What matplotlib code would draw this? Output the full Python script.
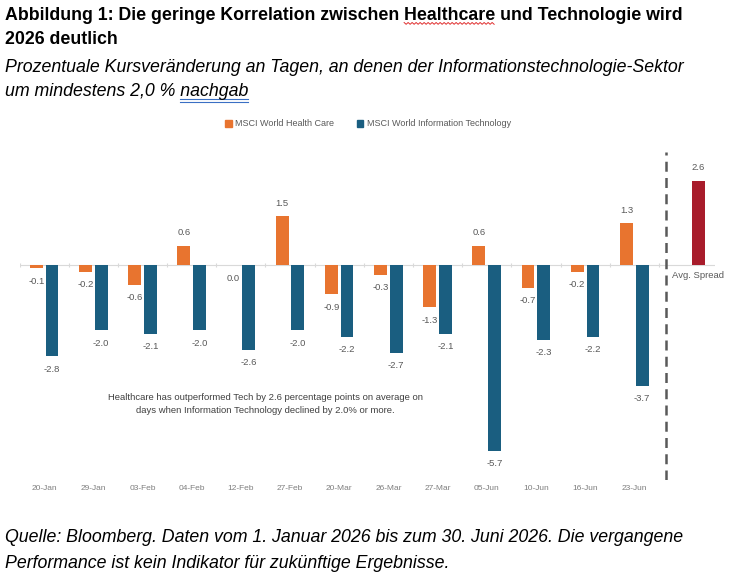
import matplotlib.pyplot as plt
import numpy as np
from matplotlib.patches import Patch
from matplotlib.lines import Line2D

dates = ["20-Jan", "29-Jan", "03-Feb", "04-Feb", "12-Feb", "27-Feb", "20-Mar",
         "26-Mar", "27-Mar", "05-Jun", "10-Jun", "16-Jun", "23-Jun"]
health = [-0.1, -0.2, -0.6, 0.6, 0.0, 1.5, -0.9, -0.3, -1.3, 0.6, -0.7, -0.2, 1.3]
tech = [-2.8, -2.0, -2.1, -2.0, -2.6, -2.0, -2.2, -2.7, -2.1, -5.7, -2.3, -2.2, -3.7]
avg_spread = 2.6

orange = "#E8742F"
blue = "#1A5E80"
red = "#A81C2B"
grey = "#595959"

plt.rcParams['font.family'] = ['Liberation Sans', 'DejaVu Sans']

W, H = 738, 586
fig = plt.figure(figsize=(7.38, 5.86), dpi=100)
ax = fig.add_axes([0.0271, 0.181, 0.9417, 0.563])

x = np.arange(len(dates))
off = 0.16
w = 0.26
ax.bar(x - off, health, w, color=orange)
ax.bar(x + off, tech, w, color=blue)
xa = 13.3
ax.bar([xa], [avg_spread], w, color=red)

def lab(xp, v):
    if v > 0:
        ax.annotate(f"{v:.1f}", (xp, v), xytext=(0, 6), textcoords="offset points",
                    ha="center", va="bottom", fontsize=6.8, color=grey)
    else:
        ax.annotate(f"{v:.1f}", (xp, v), xytext=(0, -6), textcoords="offset points",
                    ha="center", va="top", fontsize=6.8, color=grey)

for i in range(len(dates)):
    lab(x[i] - off, health[i])
    lab(x[i] + off, tech[i])
lab(xa, avg_spread)

ax.axhline(0, color="#D9D9D9", lw=0.8, zorder=0)
ax.vlines(np.arange(-0.5, 13.5, 1.0), -0.07, 0.07, color="#D9D9D9", lw=0.8, zorder=0)
ax.axvline(12.64, ymin=0.0, ymax=0.994, color="#595959", lw=1.8, ls=(0, (4, 2.5)))
ax.text(xa, -0.18, "Avg. Spread", ha="center", va="top", fontsize=6.8, color=grey)

ax.set_xlim(-0.49, 13.64)
ax.set_ylim(-6.6, 3.54)
ax.axis("off")

for i, d in enumerate(dates):
    fig.text((44 + 49.2 * i) / W, 1 - 488 / H, d, ha="center", va="center",
             fontsize=6, color="#7F7F7F")

fig.text(265 / W, 1 - 404 / H,
         "Healthcare has outperformed Tech by 2.6 percentage points on average on\n"
         "days when Information Technology declined by 2.0% or more.",
         ha="center", va="center", fontsize=6.8, color="#404040", linespacing=1.5)

handles = [Patch(color=orange, label="MSCI World Health Care"),
           Patch(color=blue, label="MSCI World Information Technology")]
fig.legend(handles=handles, loc="center", bbox_to_anchor=(0.4987, 1 - 124 / H), ncol=2,
           frameon=False, fontsize=6.5, handlelength=0.7, handleheight=0.7,
           handletextpad=0.4, columnspacing=2.5, labelcolor=grey)

fs = 12.8
fig.text(5 / W, 1 - 15 / H,
         "Abbildung 1: Die geringe Korrelation zwischen Healthcare und Technologie wird",
         fontsize=fs, fontweight="bold", va="center", ha="left")
fig.text(5 / W, 1 - 40 / H, "2026 deutlich",
         fontsize=fs, fontweight="bold", va="center", ha="left")
fig.text(5 / W, 1 - 67 / H,
         "Prozentuale Kursveränderung an Tagen, an denen der Informationstechnologie-Sektor",
         fontsize=fs, style="italic", va="center", ha="left")
fig.text(5 / W, 1 - 92 / H, "um mindestens 2,0 % nachgab",
         fontsize=fs, style="italic", va="center", ha="left")
fig.text(5 / W, 1 - 538 / H,
         "Quelle: Bloomberg. Daten vom 1. Januar 2026 bis zum 30. Juni 2026. Die vergangene",
         fontsize=fs, style="italic", va="center", ha="left")
fig.text(5 / W, 1 - 563 / H,
         "Performance ist kein Indikator für zukünftige Ergebnisse.",
         fontsize=fs, style="italic", va="center", ha="left")

# word-processor marks: red wavy under "Healthcare", blue double underline under "nachgab"
fig.canvas.draw()
r = fig.canvas.get_renderer()

def word_span(prefix, word, **kw):
    t1 = fig.text(0, 0, prefix, fontsize=fs, **kw)
    t2 = fig.text(0, 0, word, fontsize=fs, **kw)
    e1 = t1.get_window_extent(r)
    e2 = t2.get_window_extent(r)
    t1.remove()
    t2.remove()
    x1 = 5 + e1.width
    return x1 - e2.width, x1

hx0, hx1 = word_span("Abbildung 1: Die geringe Korrelation zwischen Healthcare", "Healthcare",
                     fontweight="bold")
xs = np.arange(hx0, hx1, 2.0)
ys = 1 - (22.5 + 1.8 * (np.arange(len(xs)) % 2)) / H
fig.add_artist(Line2D(xs / W, ys, color="#E03030", lw=0.7, transform=fig.transFigure))

nx0, nx1 = word_span("um mindestens 2,0 % nachgab", "nachgab", style="italic")
for yy in (99, 102):
    fig.add_artist(Line2D([nx0 / W, nx1 / W], [1 - yy / H, 1 - yy / H], color="#3A6FC4",
                          lw=0.8, transform=fig.transFigure))

fig.savefig("out.png", dpi=100)
